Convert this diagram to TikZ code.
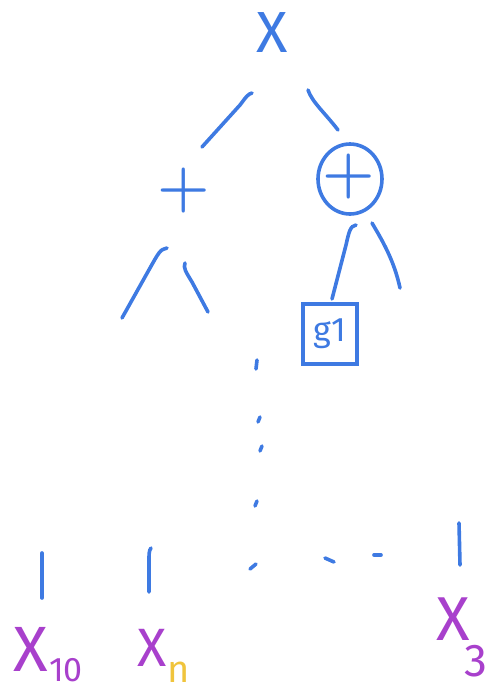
\documentclass[tikz,border=0pt]{standalone}
\usepackage{fontspec}
\setmainfont{Fira Sans}
\newfontfamily\lmr{Latin Modern Roman}
\definecolor{pen}{RGB}{62,122,226}
\definecolor{pur}{RGB}{168,64,204}
\definecolor{yel}{RGB}{240,196,60}
\begin{document}
\begin{tikzpicture}[x=1pt,y=-1pt,
  stroke/.style={pen,line width=3.6pt,line cap=round},
  txt/.style={inner sep=0pt,anchor=center},
  fs/.style={font=\fontsize{#1}{#1}\selectfont}]
\useasboundingbox (0,0) rectangle (500,691);
% nodes
\node[txt,fs=58,pen] (root) at (272,33) {X};
\node[txt,fs=60,pen] (plusL) at (184,191) {\lmr\bfseries +};
\node[txt,fs=60,pen] (plusR) at (349,177) {\lmr\bfseries +};
\draw[stroke] (350,179) ellipse [x radius=32, y radius=35];
\node[txt,draw=pen,line width=3.4pt,minimum width=54pt,minimum height=60pt,fs=34,pen] (g1) at (330,334) {g1};
\node[txt,fs=64,pur] (x10) at (31,649) {X};
\node[txt,fs=34,pur,anchor=base west] (x10s) at (49,681) {10};
\node[txt,fs=54,pur] (xn) at (152,648) {X};
\node[txt,fs=38,yel,anchor=base west] (xns) at (167,682) {n};
\node[txt,fs=62,pur] (x3) at (453,619) {X};
\node[txt,fs=46,pur,anchor=base west] (x3s) at (464,676) {3};
% branches
\draw[stroke] (252,93) .. controls (248,94) and (246,97) .. (240,105) -- (202,147);
\draw[stroke] (308,90) .. controls (312,102) and (325,113) .. (338,130);
\draw[stroke] (167,248) .. controls (160,249) and (158,254) .. (150,268) -- (122,318);
\draw[stroke] (185,263) .. controls (183,268) and (186,272) .. (192,282) -- (208,312);
\draw[stroke] (356,225) .. controls (350,226) and (349,232) .. (346,245) -- (332,299);
\draw[stroke] (372,223) .. controls (382,240) and (394,260) .. (400,288);
% dots
\draw[stroke] (257,360) -- (256,369);
\draw[stroke] (260,417) -- (258,422);
\draw[stroke] (262,446) -- (260,451);
\draw[stroke] (257,501) -- (255,506);
\draw[stroke] (256,564) -- (250,569);
\draw[stroke] (325,558) -- (334,562);
\draw[stroke] (374,555) -- (381,555);
% leaf stems
\draw[stroke] (42,553) -- (42,598);
\draw[stroke] (151,548) .. controls (149,550) and (149,555) .. (149,560) -- (149,592);
\draw[stroke] (459,523) -- (460,565);
\end{tikzpicture}
\end{document}
